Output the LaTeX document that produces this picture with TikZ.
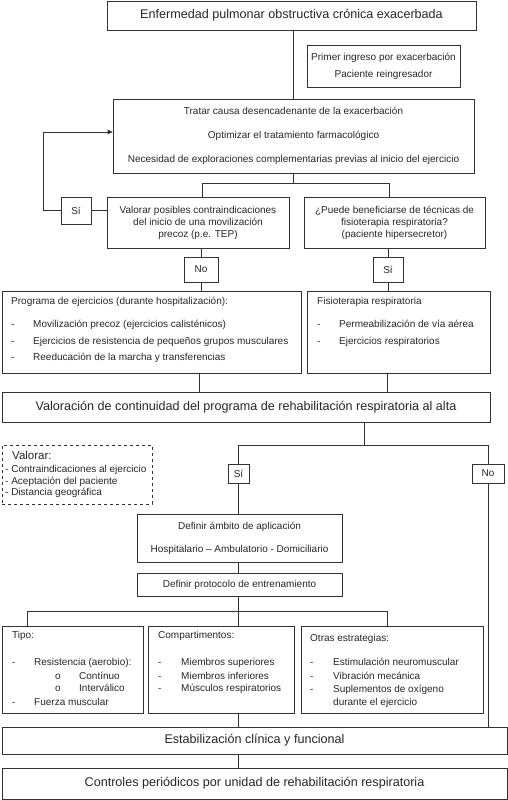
\documentclass[tikz,border=0pt]{standalone}
\usepackage{fontspec}
\setmainfont{Liberation Sans}
\usetikzlibrary{arrows.meta}
\colorlet{linegray}{black!80}
\colorlet{textgray}{black!85}

\tikzset{
  box/.style={draw=linegray, line width=0.7pt, inner sep=0pt, text=textgray},
  link/.style={draw=linegray, line width=0.7pt},
  big/.style={font=\fontsize{12.6}{14}\selectfont},
  small/.style={font=\fontsize{10}{12}\selectfont},
  item/.style={font=\fontsize{10}{12}\selectfont, text=textgray, anchor=west, inner sep=0pt,
    text height=7.5pt, text depth=2.2pt},
}

\begin{document}
\begin{tikzpicture}[x=1pt,y=-1pt]
\useasboundingbox (0,0) rectangle (508,800);

% top part
\node[box, big, minimum width=369, minimum height=29] (enf) at (291.5,15.5)
  {Enfermedad pulmonar obstructiva crónica exacerbada};
\node[box, align=center, font=\fontsize{10}{17}\selectfont, minimum width=153, minimum height=42] (primer) at (383.5,66)
  {Primer ingreso por exacerbación\\Paciente reingresador};
\node[box, align=center, font=\fontsize{10}{24}\selectfont, minimum width=361, minimum height=74] (tratar) at (293.5,136)
  {Tratar causa desencadenante de la exacerbación\\Optimizar el tratamiento farmacológico\\Necesidad de exploraciones complementarias previas al inicio del ejercicio};
\node[box, small, minimum width=30, minimum height=27] (si1) at (76,210.5) {Sí};
\node[box, align=center, font=\fontsize{10}{12}\selectfont, minimum width=182, minimum height=51] (valorar) at (198,222.5)
  {Valorar posibles contraindicaciones\\del inicio de una movilización\\precoz (p.e. TEP)};
\node[box, align=center, font=\fontsize{10}{12}\selectfont, minimum width=181, minimum height=51] (puede) at (394.5,222.5)
  {¿Puede beneficiarse de técnicas de\\fisioterapia respiratoria?\\(paciente hipersecretor)};
\node[box, small, minimum width=34, minimum height=25] (no1) at (201,269.5) {No};
\node[box, small, minimum width=30, minimum height=25] (si2) at (388,269.5) {Sí};

% hospital programmes
\node[box, minimum width=299, minimum height=82] (prog) at (151.5,332) {};
\node[item] (progtitle) at (11,302) {Programa de ejercicios (durante hospitalización):};
\foreach \y/\t [count=\i] in {325/Movilización precoz (ejercicios calisténicos),
    342/Ejercicios de resistencia de pequeños grupos musculares,
    358/Reeducación de la marcha y transferencias}{
  \node[item] (progdash\i) at (11,\y) {-};
  \node[item] (progitem\i) at (33,\y) {\t};
}
\node[box, minimum width=183, minimum height=82] (fisio) at (398.5,332) {};
\node[item] (fisiotitle) at (317,302) {Fisioterapia respiratoria};
\foreach \y/\t [count=\i] in {325/Permeabilización de vía aérea, 342/Ejercicios respiratorios}{
  \node[item] (fisiodash\i) at (317,\y) {-};
  \node[item] (fisioitem\i) at (339,\y) {\t};
}

% discharge
\node[box, big, minimum width=488, minimum height=30] (valcont) at (246,407)
  {Valoración de continuidad del programa de rehabilitación respiratoria al alta};
\node[box, dashed, minimum width=150, minimum height=59] (valbox) at (77,474.5) {};
\node[item, font=\fontsize{11.5}{13}\selectfont] (valtitle) at (12,457) {Valorar:};
\foreach \y/\t [count=\i] in {470/Contraindicaciones al ejercicio, 482/Aceptación del paciente, 493/Distancia geográfica}{
  \node[item] (valitem\i) at (5,\y) {- \t};
}
\node[box, small, minimum width=21, minimum height=19] (si3) at (238.5,473.5) {Sí};
\node[box, small, minimum width=32, minimum height=19] (no3) at (488,473.5) {No};
\node[box, align=center, font=\fontsize{10}{23}\selectfont, minimum width=205, minimum height=48] (ambito) at (239.5,538)
  {Definir ámbito de aplicación\\Hospitalario – Ambulatorio - Domiciliario};
\node[box, small, minimum width=205, minimum height=23] (proto) at (239.5,584.5) {Definir protocolo de entrenamiento};

% training
\node[box, minimum width=141, minimum height=87] (tipo) at (72.5,669.5) {};
\node[item] (tipotitle) at (12,636) {Tipo:};
\foreach \y/\m/\mx/\tx/\t [count=\i] in {663/-/12/34/Resistencia (aerobio):, 677/o/55/79/Contínuo,
    689/o/55/79/Interválico, 703/-/12/34/Fuerza muscular}{
  \node[item] (tipomark\i) at (\mx,\y) {\m};
  \node[item] (tipoitem\i) at (\tx,\y) {\t};
}
\node[box, minimum width=146, minimum height=87] (comp) at (221,669.5) {};
\node[item] (comptitle) at (158,636) {Compartimentos:};
\foreach \y/\t [count=\i] in {663/Miembros superiores, 677/Miembros inferiores, 689/Músculos respiratorios}{
  \node[item] (compdash\i) at (158,\y) {-};
  \node[item] (compitem\i) at (181,\y) {\t};
}
\node[box, minimum width=182, minimum height=87] (otras) at (392,669.5) {};
\node[item] (otrastitle) at (310,639) {Otras estrategias:};
\foreach \y/\t [count=\i] in {663/Estimulación neuromuscular, 677/Vibración mecánica, 690/Suplementos de oxígeno}{
  \node[item] (otrasdash\i) at (310,\y) {-};
  \node[item] (otrasitem\i) at (333,\y) {\t};
}
\node[item] (otrasitem4) at (333,703) {durante el ejercicio};

\node[box, big, minimum width=505, minimum height=27] (estab) at (254.5,740.5) {Estabilización clínica y funcional};
\node[box, big, minimum width=505, minimum height=31] (ctrl) at (254.5,783.5)
  {Controles periódicos por unidad de rehabilitación respiratoria};

% connectors
\coordinate (split1) at (293.5,183);
\coordinate (back) at (43,132);
\coordinate (split2) at (364,445);
\coordinate (split3) at (238.5,611);
\draw[link] (enf.south -| tratar.north) -- (tratar.north);
\draw[link] (tratar.south) -- (split1);
\draw[link] (split1 -| 202,0) -- (split1 -| 389,0);
\draw[link] (split1 -| 202,0) -- (valorar.north -| 202,0);
\draw[link] (split1 -| 389,0) -- (puede.north -| 389,0);
\draw[link, -{Triangle[length=5pt,width=4.5pt]}] (si1.west) -| (back) -- (back -| tratar.west);
\draw[link] (si1.east) -- (si1.east -| valorar.west);
\draw[link] (valorar.south -| no1) -- (no1.north);
\draw[link] (no1.south) -- (no1 |- prog.north);
\draw[link] (puede.south -| si2) -- (si2.north);
\draw[link] (si2.south) -- (si2 |- fisio.north);
\draw[link] (prog.south -| 199,0) -- (valcont.north -| 199,0);
\draw[link] (fisio.south -| 387,0) -- (valcont.north -| 387,0);
\draw[link] (valcont.south -| split2) -- (split2);
\draw[link] (split2 -| si3) -- (split2 -| no3);
\draw[link] (split2 -| si3) -- (si3.north);
\draw[link] (split2 -| no3) -- (no3.north);
\draw[link] (si3.south) -- (ambito.north -| si3);
\draw[link] (ambito.south -| si3) -- (proto.north -| si3);
\draw[link] (no3.south) -- (estab.north -| no3);
\draw[link] (proto.south -| split3) -- (split3);
\draw[link] (split3 -| 27,0) -- (split3 -| 387,0);
\draw[link] (split3 -| 27,0) -- (tipo.north -| 27,0);
\draw[link] (split3) -- (comp.north -| split3);
\draw[link] (split3 -| 387,0) -- (otras.north -| 387,0);
\draw[link] (comp.south -| split3) -- (estab.north -| split3);
\draw[link] (estab.south -| split3) -- (ctrl.north -| split3);
\end{tikzpicture}
\end{document}
